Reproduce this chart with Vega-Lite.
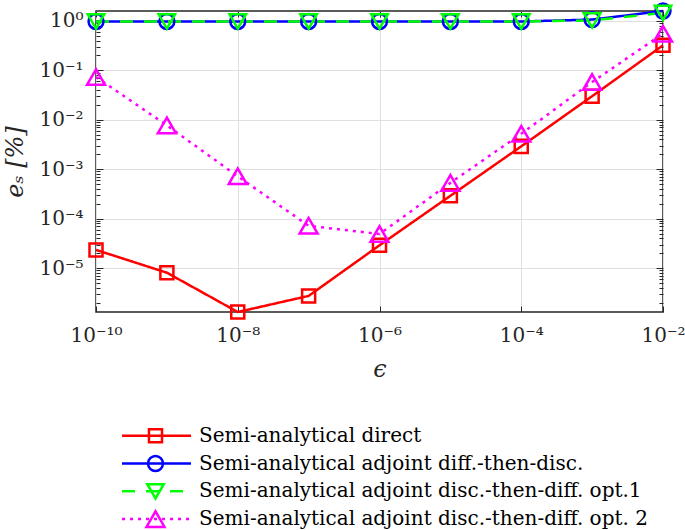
{
  "$schema": "https://vega.github.io/schema/vega-lite/v6.json",
  "width": 567,
  "height": 301,
  "autosize": {"type": "none"},
  "padding": {"left": 96, "top": 11, "right": 22, "bottom": 218},
  "background": "#ffffff",
  "config": {
    "font": "DejaVu Serif",
    "view": {"stroke": "#262626", "strokeWidth": 1.5},
    "axis": {"labelFont": "DejaVu Serif", "titleFont": "DejaVu Serif", "labelColor": "#262626", "titleColor": "#262626", "tickColor": "#262626", "labelFlush": false, "labelOverlap": false, "domain": false},
    "legend": {"labelFont": "DejaVu Serif", "titleFont": "DejaVu Serif"}
  },
  "data": {
    "values": [
      {"eps": 1e-10, "es": 2.34e-5, "series": "Semi-analytical direct", "k": 1},
      {"eps": 1e-9, "es": 8.1e-6, "series": "Semi-analytical direct", "k": 1},
      {"eps": 1e-8, "es": 1.3e-6, "series": "Semi-analytical direct", "k": 1},
      {"eps": 1e-7, "es": 2.75e-6, "series": "Semi-analytical direct", "k": 1},
      {"eps": 1e-6, "es": 2.9e-5, "series": "Semi-analytical direct", "k": 1},
      {"eps": 1e-5, "es": 2.9e-4, "series": "Semi-analytical direct", "k": 1},
      {"eps": 1e-4, "es": 2.9e-3, "series": "Semi-analytical direct", "k": 1},
      {"eps": 1e-3, "es": 0.03, "series": "Semi-analytical direct", "k": 1},
      {"eps": 1e-2, "es": 0.32, "series": "Semi-analytical direct", "k": 1},
      {"eps": 1e-10, "es": 0.97, "series": "Semi-analytical adjoint diff.-then-disc.", "k": 2},
      {"eps": 1e-9, "es": 0.97, "series": "Semi-analytical adjoint diff.-then-disc.", "k": 2},
      {"eps": 1e-8, "es": 0.97, "series": "Semi-analytical adjoint diff.-then-disc.", "k": 2},
      {"eps": 1e-7, "es": 0.97, "series": "Semi-analytical adjoint diff.-then-disc.", "k": 2},
      {"eps": 1e-6, "es": 0.97, "series": "Semi-analytical adjoint diff.-then-disc.", "k": 2},
      {"eps": 1e-5, "es": 0.97, "series": "Semi-analytical adjoint diff.-then-disc.", "k": 2},
      {"eps": 1e-4, "es": 0.97, "series": "Semi-analytical adjoint diff.-then-disc.", "k": 2},
      {"eps": 1e-3, "es": 1.06, "series": "Semi-analytical adjoint diff.-then-disc.", "k": 2},
      {"eps": 1e-2, "es": 1.58, "series": "Semi-analytical adjoint diff.-then-disc.", "k": 2},
      {"eps": 1e-10, "es": 0.97, "series": "Semi-analytical adjoint disc.-then-diff. opt.1", "k": 3},
      {"eps": 1e-9, "es": 0.97, "series": "Semi-analytical adjoint disc.-then-diff. opt.1", "k": 3},
      {"eps": 1e-8, "es": 0.97, "series": "Semi-analytical adjoint disc.-then-diff. opt.1", "k": 3},
      {"eps": 1e-7, "es": 0.97, "series": "Semi-analytical adjoint disc.-then-diff. opt.1", "k": 3},
      {"eps": 1e-6, "es": 0.97, "series": "Semi-analytical adjoint disc.-then-diff. opt.1", "k": 3},
      {"eps": 1e-5, "es": 0.97, "series": "Semi-analytical adjoint disc.-then-diff. opt.1", "k": 3},
      {"eps": 1e-4, "es": 0.97, "series": "Semi-analytical adjoint disc.-then-diff. opt.1", "k": 3},
      {"eps": 1e-3, "es": 1.02, "series": "Semi-analytical adjoint disc.-then-diff. opt.1", "k": 3},
      {"eps": 1e-2, "es": 1.45, "series": "Semi-analytical adjoint disc.-then-diff. opt.1", "k": 3},
      {"eps": 1e-10, "es": 0.073, "series": "Semi-analytical adjoint disc.-then-diff. opt. 2", "k": 4},
      {"eps": 1e-9, "es": 0.0077, "series": "Semi-analytical adjoint disc.-then-diff. opt. 2", "k": 4},
      {"eps": 1e-8, "es": 7.2e-4, "series": "Semi-analytical adjoint disc.-then-diff. opt. 2", "k": 4},
      {"eps": 1e-7, "es": 7.2e-5, "series": "Semi-analytical adjoint disc.-then-diff. opt. 2", "k": 4},
      {"eps": 1e-6, "es": 4.9e-5, "series": "Semi-analytical adjoint disc.-then-diff. opt. 2", "k": 4},
      {"eps": 1e-5, "es": 5.3e-4, "series": "Semi-analytical adjoint disc.-then-diff. opt. 2", "k": 4},
      {"eps": 1e-4, "es": 5.2e-3, "series": "Semi-analytical adjoint disc.-then-diff. opt. 2", "k": 4},
      {"eps": 1e-3, "es": 0.058, "series": "Semi-analytical adjoint disc.-then-diff. opt. 2", "k": 4},
      {"eps": 1e-2, "es": 0.55, "series": "Semi-analytical adjoint disc.-then-diff. opt. 2", "k": 4}
    ]
  },
  "layer": [
    {
      "mark": {"type": "line", "strokeWidth": 2.5, "clip": false},
      "encoding": {
        "x": {"field": "eps", "type": "quantitative",
          "scale": {"type": "log", "domain": [1e-10, 1e-2], "nice": false},
          "axis": {"orient": "bottom", "values": [1e-10, 1e-8, 1e-6, 1e-4, 1e-2],
            "labelExpr": "'10' + (datum.value < 0.5 ? '⁻' : '') + ['⁰','¹','²','³','⁴','⁵','⁶','⁷','⁸','⁹','¹⁰'][abs(round(log(datum.value)/LN10))]",
            "ticks": false, "grid": true, "gridColor": "#dfdfdf", "gridWidth": 1,
            "labelFontSize": 20, "labelPadding": 13,
            "title": "ϵ", "titleFontSize": 24, "titleFontStyle": "italic", "titleFontWeight": "normal", "titlePadding": 12}},
        "y": {"field": "es", "type": "quantitative",
          "scale": {"type": "log", "domain": [1.3e-6, 1.58], "nice": false},
          "axis": {"orient": "left", "values": [1e-5, 1e-4, 1e-3, 1e-2, 1e-1, 1],
            "labelExpr": "'10' + (datum.value < 0.5 ? '⁻' : '') + ['⁰','¹','²','³','⁴','⁵','⁶','⁷','⁸','⁹','¹⁰'][abs(round(log(datum.value)/LN10))]",
            "ticks": false, "grid": true, "gridColor": "#dfdfdf", "gridWidth": 1,
            "labelFontSize": 20, "labelPadding": 13,
            "title": "eₛ [%]", "titleFontSize": 24, "titleFontStyle": "italic", "titleFontWeight": "normal", "titlePadding": 11}},
        "color": {"field": "series", "type": "nominal",
          "scale": {"domain": ["Semi-analytical direct", "Semi-analytical adjoint diff.-then-disc.", "Semi-analytical adjoint disc.-then-diff. opt.1", "Semi-analytical adjoint disc.-then-diff. opt. 2"],
            "range": ["#ff0000", "#0000ff", "#00ff00", "#ff00ff"]},
          "legend": {"orient": "none", "legendX": 24.5, "legendY": 413.7, "title": null, "padding": 0,
            "symbolType": "stroke", "symbolSize": 4761, "symbolStrokeWidth": 2.5, "clipHeight": 22, "rowPadding": 5.8,
            "labelFont": "DejaVu Serif", "labelFontSize": 20, "labelColor": "#000000", "labelOffset": 6.5, "labelLimit": 0, "zindex": 1}},
        "strokeDash": {"field": "series", "type": "nominal",
          "scale": {"domain": ["Semi-analytical direct", "Semi-analytical adjoint diff.-then-disc.", "Semi-analytical adjoint disc.-then-diff. opt.1", "Semi-analytical adjoint disc.-then-diff. opt. 2"],
            "range": [[1, 0], [1, 0], [13, 11], [3, 5]]},
          "legend": {"orient": "none", "legendX": 24.5, "legendY": 413.7, "title": null, "padding": 0,
            "symbolType": "stroke", "symbolSize": 4761, "symbolStrokeWidth": 2.5, "clipHeight": 22, "rowPadding": 5.8,
            "labelFont": "DejaVu Serif", "labelFontSize": 20, "labelColor": "#000000", "labelOffset": 6.5, "labelLimit": 0, "zindex": 1}}
      }
    },
    {
      "mark": {"type": "point", "filled": false, "strokeWidth": 2.5, "opacity": 1, "clip": false},
      "encoding": {
        "x": {"field": "eps", "type": "quantitative",
          "axis": {"orient": "top", "values": [1e-10, 1e-8, 1e-6, 1e-4, 1e-2], "labels": false, "ticks": true, "tickSize": -6, "grid": false, "title": null}},
        "y": {"field": "es", "type": "quantitative",
          "axis": {"orient": "right", "values": [2e-6,3e-6,4e-6,5e-6,6e-6,7e-6,8e-6,9e-6,1e-5,2e-5,3e-5,4e-5,5e-5,6e-5,7e-5,8e-5,9e-5,1e-4,2e-4,3e-4,4e-4,5e-4,6e-4,7e-4,8e-4,9e-4,1e-3,2e-3,3e-3,4e-3,5e-3,6e-3,7e-3,8e-3,9e-3,1e-2,2e-2,3e-2,4e-2,5e-2,6e-2,7e-2,8e-2,9e-2,1e-1,2e-1,3e-1,4e-1,5e-1,6e-1,7e-1,8e-1,9e-1,1],
            "labels": false, "ticks": true, "grid": false, "title": null,
            "tickSize": {"condition": {"test": "abs(log(datum.value)/LN10 - round(log(datum.value)/LN10)) < 0.001", "value": -7}, "value": -4}}},
        "shape": {"field": "series", "type": "nominal",
          "sort": {"field": "k", "op": "min"},
          "scale": {"range": ["square", "circle", "triangle-down", "triangle-up"]},
          "legend": {"orient": "none", "legendX": 24.5, "legendY": 413.7, "title": null, "padding": 0,
            "clipHeight": 22, "rowPadding": 5.8, "symbolStrokeWidth": 2.5, "symbolOffset": 24.5, "symbolFillColor": "transparent",
            "labelFont": "DejaVu Serif", "labelFontSize": 20, "labelOpacity": 0, "labelOffset": 6.5, "labelLimit": 0, "zindex": 2}},
        "stroke": {"field": "series", "type": "nominal",
          "sort": {"field": "k", "op": "min"},
          "scale": {"range": ["#ff0000", "#0000ff", "#00ff00", "#ff00ff"]},
          "legend": {"orient": "none", "legendX": 24.5, "legendY": 413.7, "title": null, "padding": 0,
            "clipHeight": 22, "rowPadding": 5.8, "symbolStrokeWidth": 2.5, "symbolOffset": 24.5, "symbolFillColor": "transparent",
            "labelFont": "DejaVu Serif", "labelFontSize": 20, "labelOpacity": 0, "labelOffset": 6.5, "labelLimit": 0, "zindex": 2}},
        "size": {"field": "series", "type": "nominal",
          "sort": {"field": "k", "op": "min"},
          "scale": {"range": [170, 324, 320, 400]},
          "legend": {"orient": "none", "legendX": 24.5, "legendY": 413.7, "title": null, "padding": 0,
            "clipHeight": 22, "rowPadding": 5.8, "symbolStrokeWidth": 2.5, "symbolOffset": 24.5, "symbolFillColor": "transparent",
            "labelFont": "DejaVu Serif", "labelFontSize": 20, "labelOpacity": 0, "labelOffset": 6.5, "labelLimit": 0, "zindex": 2}}
      }
    },
    {
      "mark": {"type": "point", "opacity": 0},
      "encoding": {
        "x": {"field": "eps", "type": "quantitative",
          "axis": {"orient": "bottom", "values": [1e-10, 1e-8, 1e-6, 1e-4, 1e-2], "labels": false, "ticks": true, "tickSize": -6, "grid": false, "title": null}},
        "y": {"field": "es", "type": "quantitative",
          "axis": {"orient": "left", "values": [2e-6,3e-6,4e-6,5e-6,6e-6,7e-6,8e-6,9e-6,1e-5,2e-5,3e-5,4e-5,5e-5,6e-5,7e-5,8e-5,9e-5,1e-4,2e-4,3e-4,4e-4,5e-4,6e-4,7e-4,8e-4,9e-4,1e-3,2e-3,3e-3,4e-3,5e-3,6e-3,7e-3,8e-3,9e-3,1e-2,2e-2,3e-2,4e-2,5e-2,6e-2,7e-2,8e-2,9e-2,1e-1,2e-1,3e-1,4e-1,5e-1,6e-1,7e-1,8e-1,9e-1,1],
            "labels": false, "ticks": true, "grid": false, "title": null,
            "tickSize": {"condition": {"test": "abs(log(datum.value)/LN10 - round(log(datum.value)/LN10)) < 0.001", "value": -7}, "value": -4}}}
      }
    }
  ],
  "resolve": {"axis": {"x": "independent", "y": "independent"}}
}
